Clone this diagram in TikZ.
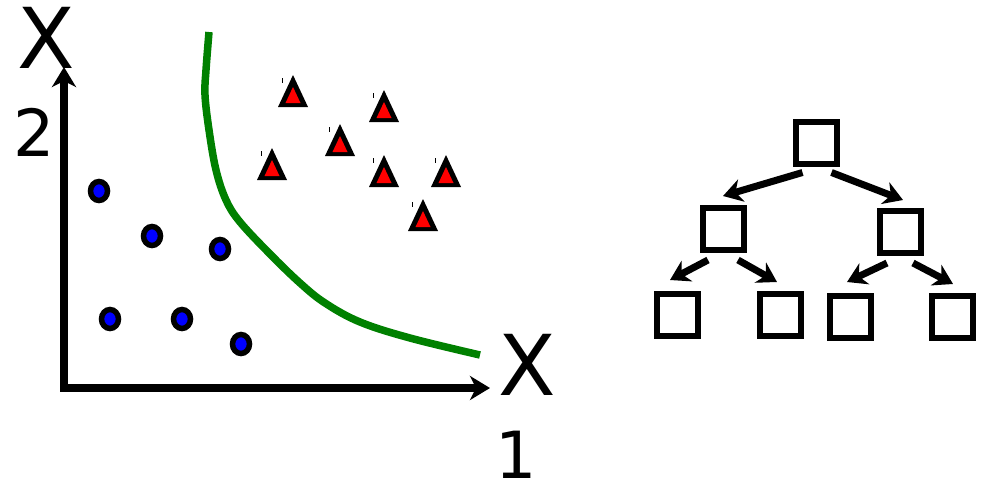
\documentclass[tikz,border=0pt]{standalone}
\usepackage{fontspec}
\setmainfont{DejaVu Sans}
\usetikzlibrary{arrows.meta}
\definecolor{curvegreen}{RGB}{0,128,0}
\tikzset{
  bigX/.style={inner sep=0pt, font=\fontsize{84}{84}\selectfont},
  digit/.style={inner sep=0pt, font=\fontsize{65}{65}\selectfont},
  axisline/.style={line width=7.5pt, -{Stealth[length=20pt,width=24pt,inset=6pt]}},
  treebox/.style={draw, line width=6pt, minimum width=41pt, minimum height=42pt, inner sep=0pt},
  treearrow/.style={line width=7pt, -{Stealth[length=19pt,width=23pt,inset=6pt]}},
  tri/.pic={
    \fill[black] (0,0) -- (15,32) -- (-15,32) -- cycle;
    \fill[red] (0,12) -- (7.5,28) -- (-7.5,28) -- cycle;
    \draw[line width=1pt] (-11,3) -- (-11,8);
  },
  dot/.pic={
    \draw[line width=5.5pt, fill=blue] (0,0) ellipse [x radius=8.5, y radius=9.5];
  }
}
\begin{document}
\begin{tikzpicture}[x=1pt, y=-1pt]
\useasboundingbox[fill=white] (0,0) rectangle (987,485);

% axes
\coordinate (O) at (64,388);
\coordinate (xend) at (490,388);
\coordinate (yend) at (64,67);
\draw[axisline, line cap=rect] (O) -- (xend);
\draw[axisline, line cap=rect] (O) -- (yend);

% labels
\node[bigX] (xtwo) at (46.5,37.5) {X};
\node[digit] (two) at (34,132) {2};
\node[bigX] (xone) at (527.5,365) {X};
\node[digit] (one) at (516,455) {1};

% decision boundary
\draw[curvegreen, line width=7.5pt] plot[smooth, tension=0.6] coordinates {
  (209,32) (206,70) (205,95) (209,130) (216,170) (226,200) (240,222)
  (270,254) (300,283) (325,303) (360,322) (410,338) (480,355)};

% blue points
\pic at (99,191) {dot};
\pic at (152,236) {dot};
\pic at (220,249) {dot};
\pic at (110,319) {dot};
\pic at (182,319) {dot};
\pic at (241,344) {dot};

% red triangles
\pic at (293,75) {tri};
\pic at (384,90) {tri};
\pic at (340,124) {tri};
\pic at (272,148) {tri};
\pic at (384,155) {tri};
\pic at (446,155) {tri};
\pic at (423,199) {tri};

% tree
\node[treebox] (root) at (816.5,142.5) {};
\node[treebox] (lmid) at (723,229) {};
\node[treebox] (rmid) at (900,232) {};
\node[treebox] (ll) at (677,315) {};
\node[treebox] (lr) at (780,315) {};
\node[treebox] (rl) at (850,317) {};
\node[treebox] (rr) at (952,317) {};

\draw[treearrow] ([shift={(-14,6)}]root.south) -- ([shift={(0,-9)}]lmid.north);
\draw[treearrow] ([shift={(15,6)}]root.south) -- ([shift={(3,-8)}]rmid.north);
\draw[treearrow] ([shift={(-15,7)}]lmid.south) -- ([shift={(-7,-11)}]ll.north);
\draw[treearrow] ([shift={(15,7)}]lmid.south) -- ([shift={(-3,-9)}]lr.north);
\draw[treearrow] ([shift={(-13,7)}]rmid.south) -- ([shift={(-3,-11)}]rl.north);
\draw[treearrow] ([shift={(13,7)}]rmid.south) -- ([shift={(1,-9)}]rr.north);
\end{tikzpicture}
\end{document}
